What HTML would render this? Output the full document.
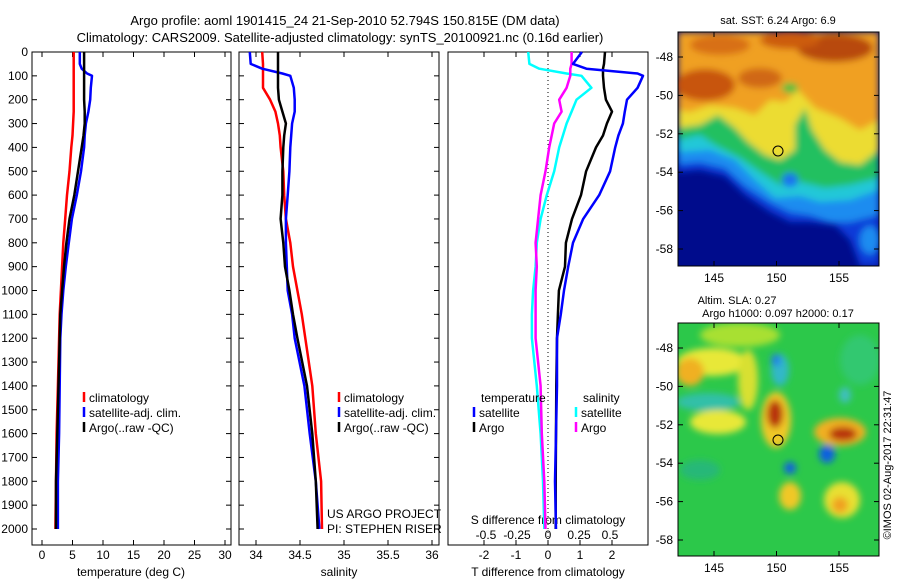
<!DOCTYPE html>
<html><head><meta charset="utf-8"><style>
html,body{margin:0;padding:0;background:#fff;}
svg{display:block;font-family:"Liberation Sans",sans-serif;}
text{font-size:12px;fill:#000;}
</style></head><body>
<svg id="chart" width="900" height="580" viewBox="0 0 900 580">
<defs>
<filter id="blur3" x="-10%" y="-10%" width="120%" height="120%"><feGaussianBlur stdDeviation="3.5"/></filter>
<clipPath id="clipTop"><rect x="678" y="32" width="201" height="234"/></clipPath>
<clipPath id="clipBot"><rect x="678" y="323" width="201" height="233"/></clipPath>
</defs>
<text x="345" y="25" text-anchor="middle" style="font-size:13px">Argo profile: aoml 1901415_24 21-Sep-2010 52.794S 150.815E (DM data)</text>
<text x="340" y="42" text-anchor="middle" style="font-size:13px">Climatology: CARS2009. Satellite-adjusted climatology: synTS_20100921.nc (0.16d earlier)</text>

<!-- SST map -->
<g clip-path="url(#clipTop)">
<rect x="678" y="32" width="201" height="234" fill="#000c8c"/>
<g filter="url(#blur3)">
<polygon fill="#0a3ad8" points="678,32 879,32 879,266 860,266 850,240 835,225 810,222 790,222 770,212 745,195 725,176 700,170 678,172"/>
<polygon fill="#1a8cf0" points="678,32 879,32 879,215 850,222 830,222 810,215 790,212 770,202 745,186 725,168 700,162 678,164"/>
<polygon fill="#22c8d8" points="678,32 879,32 879,190 850,200 820,202 800,196 775,198 755,180 735,160 710,150 678,152"/>
<polygon fill="#20c060" points="678,32 879,32 879,178 850,185 825,188 800,182 780,185 760,172 740,158 715,145 700,135 678,140"/>
<polygon fill="#ecdc30" points="678,32 879,32 879,150 860,165 840,162 825,150 812,130 805,108 795,125 795,150 780,160 765,155 748,142 735,128 718,115 700,125 678,128"/>
<polygon fill="#f0a020" points="678,32 879,32 879,120 860,130 840,118 815,108 798,90 785,102 770,100 755,115 735,108 710,105 690,112 678,110"/>
<ellipse cx="705" cy="85" rx="30" ry="16" fill="#c85410"/>
<ellipse cx="760" cy="78" rx="22" ry="10" fill="#d06814"/>
<ellipse cx="835" cy="48" rx="38" ry="14" fill="#b84808"/>
<ellipse cx="790" cy="40" rx="30" ry="9" fill="#cc5c10"/>
<ellipse cx="720" cy="45" rx="30" ry="10" fill="#d87018"/>
<ellipse cx="790" cy="88" rx="8" ry="5" fill="#40c040"/>
<ellipse cx="790" cy="180" rx="8" ry="7" fill="#1a70f0"/>
<ellipse cx="870" cy="240" rx="10" ry="14" fill="#1a8cf0"/>
</g>
</g>
<rect x="678" y="32" width="201" height="234" fill="none" stroke="#000"/>
<circle cx="778" cy="151" r="5" fill="none" stroke="#000"/>
<text x="778" y="24" text-anchor="middle" style="font-size:11px">sat. SST: 6.24  Argo: 6.9</text>

<!-- SLA map -->
<g clip-path="url(#clipBot)">
<rect x="678" y="323" width="201" height="233" fill="#2cc84a"/>
<g filter="url(#blur3)">
<ellipse cx="740" cy="335" rx="40" ry="12" fill="#a8e030"/>
<ellipse cx="712" cy="362" rx="35" ry="14" fill="#e8e838"/>
<ellipse cx="690" cy="372" rx="14" ry="14" fill="#f0b020"/>
<ellipse cx="708" cy="402" rx="32" ry="9" fill="#30c0a8"/>
<ellipse cx="718" cy="422" rx="28" ry="12" fill="#e8e838"/>
<ellipse cx="748" cy="380" rx="10" ry="30" fill="#d8e030"/>
<ellipse cx="776" cy="420" rx="15" ry="28" fill="#f0c828"/>
<ellipse cx="775" cy="414" rx="8" ry="14" fill="#b83008"/>
<ellipse cx="780" cy="370" rx="9" ry="16" fill="#30b8c8"/>
<ellipse cx="776" cy="360" rx="5" ry="6" fill="#2080e8"/>
<ellipse cx="840" cy="432" rx="26" ry="14" fill="#f0b020"/>
<ellipse cx="843" cy="434" rx="14" ry="7" fill="#b83008"/>
<ellipse cx="827" cy="454" rx="8" ry="9" fill="#1060e0"/>
<ellipse cx="790" cy="468" rx="6" ry="6" fill="#1060e0"/>
<ellipse cx="845" cy="395" rx="6" ry="8" fill="#40c0c0"/>
<ellipse cx="790" cy="496" rx="11" ry="14" fill="#f0c828"/>
<ellipse cx="842" cy="500" rx="18" ry="18" fill="#e8e030"/>
<ellipse cx="840" cy="505" rx="8" ry="8" fill="#f0a020"/>
<ellipse cx="700" cy="470" rx="20" ry="10" fill="#28b878"/>
<ellipse cx="860" cy="360" rx="20" ry="25" fill="#30c870"/>
</g>
</g>
<rect x="678" y="323" width="201" height="233" fill="none" stroke="#000"/>
<circle cx="778" cy="440" r="5" fill="none" stroke="#000"/>
<text x="737" y="304" text-anchor="middle" style="font-size:11px">Altim. SLA: 0.27</text>
<text x="778" y="317" text-anchor="middle" style="font-size:11px">Argo h1000: 0.097 h2000: 0.17</text>
<text transform="translate(891,465) rotate(-90)" text-anchor="middle" style="font-size:11px">©IMOS 02-Aug-2017 22:31:47</text>

<g id="dyn"></g>
</svg>
<script>
// depth levels (m)
const depths = [0,50,70,90,100,150,200,250,300,350,400,500,600,700,800,900,1000,1100,1200,1400,1600,1800,2000];
// temperature (deg C)
const tempClim = [5.2,5.2,5.2,5.2,5.2,5.2,5.2,5.2,5.1,5.0,4.8,4.5,4.1,3.8,3.5,3.3,3.1,2.9,2.8,2.6,2.4,2.3,2.2];
const tempSat  = [6.2,6.2,6.5,7.4,8.2,8.0,7.9,7.6,7.2,7.0,6.9,6.4,5.7,4.9,4.4,3.9,3.5,3.2,3.0,2.9,2.8,2.6,2.6];
const tempArgo = [6.9,6.9,6.9,6.9,6.9,6.9,6.9,7.0,7.0,6.8,6.5,5.9,5.3,4.5,4.0,3.6,3.3,3.0,2.9,2.7,2.5,2.3,2.3];
// salinity (psu)
const salClim = [34.07,34.08,34.08,34.08,34.08,34.08,34.16,34.22,34.25,34.27,34.28,34.31,34.32,34.34,34.39,34.42,34.47,34.52,34.56,34.64,34.68,34.74,34.75];
const salSat  = [33.93,33.94,34.07,34.30,34.39,34.43,34.44,34.44,34.41,34.40,34.39,34.38,34.36,34.34,34.34,34.35,34.36,34.41,34.44,34.55,34.61,34.68,34.72];
const salArgo = [34.25,34.25,34.25,34.25,34.25,34.25,34.26,34.30,34.34,34.32,34.31,34.30,34.30,34.28,34.31,34.33,34.38,34.42,34.47,34.58,34.64,34.68,34.70];
// differences from climatology
const dT_sat  = [1.06,0.78,1.2,2.8,2.97,2.8,2.47,2.4,2.34,2.2,2.1,1.94,1.6,1.1,0.78,0.63,0.5,0.4,0.28,0.28,0.25,0.22,0.25];
const dT_argo = [1.78,1.75,1.72,1.72,1.72,1.75,1.81,2.0,1.84,1.72,1.5,1.19,1.03,0.75,0.56,0.53,0.34,0.31,0.28,0.26,0.25,0.24,0.24];
const dS_sat  = [-0.16,-0.15,-0.07,0.15,0.27,0.35,0.23,0.19,0.15,0.12,0.09,0.05,-0.01,-0.06,-0.09,-0.10,-0.12,-0.13,-0.13,-0.09,-0.06,-0.04,-0.03];
const dS_argo = [0.19,0.19,0.18,0.18,0.18,0.15,0.09,0.11,0.05,0.03,0.01,-0.02,-0.06,-0.08,-0.10,-0.09,-0.10,-0.10,-0.10,-0.06,-0.05,-0.03,-0.02];
// tick labels
const depthTicks = [0,100,200,300,400,500,600,700,800,900,1000,1100,1200,1300,1400,1500,1600,1700,1800,1900,2000];
const tempTicks = [0,5,10,15,20,25,30];
const salTicks = [34,34.5,35,35.5,36];
const salTickLabels = ["34","34.5","35","35.5","36"];
const dTTicks = [-2,-1,0,1,2];
const dSTicks = [-0.5,-0.25,0,0.25,0.5];
const dSTickLabels = ["-0.5","-0.25","0","0.25","0.5"];

const NS="http://www.w3.org/2000/svg";
const g=document.getElementById('dyn');
function mk(tag,attrs,parent){const e=document.createElementNS(NS,tag);for(const k in attrs)e.setAttribute(k,attrs[k]);(parent||g).appendChild(e);return e;}
const top0=52, bot=545;
const yD=d=>top0+d*0.2385;
const xT=t=>42+6.1*t;
const xS=s=>256+88*(s-34);
const xdT=t=>548+32*t;
const xdS=s=>548+124*s;

function frame(x0,x1,name){
  const r=mk('rect',{x:x0,y:top0,width:x1-x0,height:bot-top0,fill:'none',stroke:'#000','stroke-width':1});
  
  
}
function line(xs,xf,color,name,w){
  const pts=depths.map((d,i)=>xf(xs[i]).toFixed(1)+','+yD(d).toFixed(1)).join(' ');
  const p=mk('polyline',{points:pts,fill:'none',stroke:color,'stroke-width':w||2.5,'stroke-linejoin':'round'});
  
  
}
function txt(x,y,s,anchor,name){
  const t=mk('text',{x:x,y:y,'text-anchor':anchor||'start'});
  t.textContent=s;
  
  
  return t;
}
function yTicks(x0,x1,labels,name){
  depthTicks.forEach(d=>{
    const y=yD(d);
    mk('line',{x1:x0,x2:x0+5,y1:y,y2:y,stroke:'#000'});
    mk('line',{x1:x1,x2:x1-5,y1:y,y2:y,stroke:'#000'});
    if(labels){txt(x0-4,y+4,String(d),'end',name);}
  });
}
function xTicks(vals,xf,labelsArr,name){
  vals.forEach((v,i)=>{
    const x=xf(v);
    mk('line',{x1:x,x2:x,y1:top0,y2:top0+5,stroke:'#000'});
    mk('line',{x1:x,x2:x,y1:bot,y2:bot-5,stroke:'#000'});
    txt(x,559,labelsArr?labelsArr[i]:String(v),'middle',name);
  });
}
function legItem(x,y,color,label,name){
  const b=mk('line',{x1:x,x2:x,y1:y-10,y2:y,stroke:color,'stroke-width':2.5});
  
  
  txt(x+5,y,label,'start',name);
}

// Panel 1: temperature
frame(32,231,'temperature-panel-frame');
yTicks(32,231,true,'depth-tick-label');
xTicks(tempTicks,xT,null,'temp-tick-label');
txt(131,576,'temperature (deg C)','middle','temp-axis-title');
line(tempClim,xT,'#ff0000','temp-climatology-line');
line(tempSat,xT,'#0000ff','temp-satellite-line');
line(tempArgo,xT,'#000000','temp-argo-line');
legItem(84,402,'#ff0000','climatology','temp-legend-climatology');
legItem(84,417,'#0000ff','satellite-adj. clim.','temp-legend-satellite');
legItem(84,432,'#000000','Argo(..raw -QC)','temp-legend-argo');

// Panel 2: salinity
frame(239,439,'salinity-panel-frame');
yTicks(239,439,false,'');
xTicks(salTicks,xS,salTickLabels,'sal-tick-label');
txt(339,576,'salinity','middle','sal-axis-title');
line(salClim,xS,'#ff0000','sal-climatology-line');
line(salSat,xS,'#0000ff','sal-satellite-line');
line(salArgo,xS,'#000000','sal-argo-line');
legItem(339,402,'#ff0000','climatology','sal-legend-climatology');
legItem(339,417,'#0000ff','satellite-adj. clim.','sal-legend-satellite');
legItem(339,432,'#000000','Argo(..raw -QC)','sal-legend-argo');
txt(327,518,'US ARGO PROJECT','start','project-label');
txt(327,533,'PI: STEPHEN RISER','start','pi-label');

// Panel 3: differences
frame(448,648,'difference-panel-frame');
const z=mk('line',{x1:xdT(0),x2:xdT(0),y1:top0,y2:bot,stroke:'#000','stroke-dasharray':'1,3'});


dTTicks.forEach(v=>{const x=xdT(v);mk('line',{x1:x,x2:x,y1:top0,y2:top0+5,stroke:'#000'});mk('line',{x1:x,x2:x,y1:bot,y2:bot-5,stroke:'#000'});txt(x,559,String(v),'middle','dt-tick-label');});
dSTicks.forEach((v,i)=>{txt(xdS(v),539,dSTickLabels[i],'middle','ds-tick-label');});
txt(548,524,'S difference from climatology','middle','ds-axis-title');
txt(548,576,'T difference from climatology','middle','dt-axis-title');
line(dS_sat,xdS,'#00ffff','ds-satellite-line');
line(dS_argo,xdS,'#ff00ff','ds-argo-line');
line(dT_argo,xdT,'#000000','dt-argo-line');
line(dT_sat,xdT,'#0000ff','dt-satellite-line');
txt(481,402,'temperature','start','diff-legend-temp-header');
txt(583,402,'salinity','start','diff-legend-sal-header');
legItem(474,417,'#0000ff','satellite','diff-legend-t-satellite');
legItem(474,432,'#000000','Argo','diff-legend-t-argo');
legItem(576,417,'#00ffff','satellite','diff-legend-s-satellite');
legItem(576,432,'#ff00ff','Argo','diff-legend-s-argo');

// map axes
const lats=[-48,-50,-52,-54,-56,-58];
const lons=[145,150,155];
lats.forEach(l=>{
  [[57,32],[348,323]].forEach(([y48,t])=>{
    const y=y48+(-48-l)*19.2;
    mk('line',{x1:678,x2:683,y1:y,y2:y,stroke:'#000'});
    mk('line',{x1:879,x2:874,y1:y,y2:y,stroke:'#000'});
    txt(673,y+4,String(l),'end','map-lat-label');
  });
});
lons.forEach(l=>{
  const x=714+(l-145)*12.5;
  [[32,266,282],[323,556,572]].forEach(([t,b,ly])=>{
    mk('line',{x1:x,x2:x,y1:t,y2:t+5,stroke:'#000'});
    mk('line',{x1:x,x2:x,y1:b,y2:b-5,stroke:'#000'});
    txt(x,ly,String(l),'middle','map-lon-label');
  });
});
</script>
</body></html>
